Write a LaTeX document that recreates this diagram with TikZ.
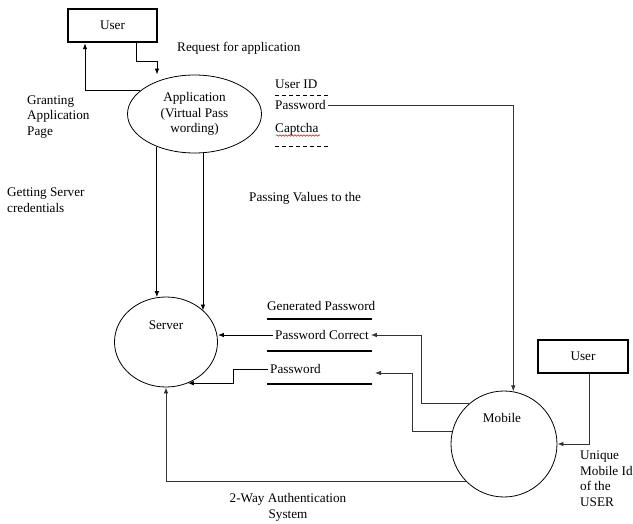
\documentclass[tikz,border=0pt]{standalone}
\usepackage{fontspec}
\setmainfont{Liberation Serif}
\usetikzlibrary{arrows.meta,shapes.geometric,decorations.pathmorphing}

\tikzset{
  entity/.style={draw, line width=2.4pt, minimum width=89pt, minimum height=33pt, inner sep=0pt},
  process/.style={draw, ellipse, line width=0.8pt, inner sep=0pt},
  flow/.style={-{Latex[length=6pt,width=4.5pt]}, line width=0.8pt},
  store/.style={line width=2.6pt},
  lbl/.style={anchor=west, inner xsep=2pt, inner ysep=0pt, align=left},
}

\begin{document}
\begin{tikzpicture}[x=1pt, y=-1pt, font=\fontsize{13.2}{15.5}\selectfont]
\useasboundingbox (0,0) rectangle (633,524);

\node[entity] (user1) at (112.5,25.5) {User};
\node[process, minimum width=134pt, minimum height=78pt, align=center] (app) at (194.5,114) {Application\\(Virtual Pass\\wording)};
\node[process, minimum width=103pt, minimum height=90pt] (server) at (166,342) {};
\node[process, minimum width=106pt, minimum height=106pt] (mob) at (504,444) {};
\node[entity, minimum width=90pt] (user2) at (583,356.5) {User};

\node (servertxt) at (166,325) {Server};
\node (mobtxt) at (502,418) {Mobile};

\node[lbl] (req) at (175,48) {Request for application};
\node[lbl] (grant) at (25,117) {Granting\\Application\\Page};
\node[lbl] (getcred) at (5,200) {Getting Server\\credentials};
\node[lbl] (passval) at (247,198) {Passing Values to the};
\node[lbl] (uid) at (273,84) {User ID};
\node[lbl] (pwd) at (273,105) {Password};
\node[lbl] (cap) at (273,129) {Captcha};
\node[lbl] (gen) at (265,306) {Generated Password};
\node[lbl] (pc) at (273,335) {Password Correct};
\node[lbl] (pw) at (268,369) {Password};
\node[lbl] (uniq) at (578,478.5) {Unique\\Mobile Id\\of the\\USER};
\node[align=center] (twoway) at (288,507.5) {2-Way Authentication\\System};
\coordinate (pwin) at (375,373);

\draw[dash pattern=on 4pt off 3pt] (275,95) -- (328,95);
\draw[dash pattern=on 4pt off 3pt] (275,146) -- (328,146);
\draw[red, line width=0.5pt, decorate, decoration={snake, amplitude=0.8pt, segment length=3pt}] (276,135.5) -- (320,135.5);

\draw[store] (267,319) -- (372,319);
\draw[store] (267,351) -- (372,351);
\draw[store] (267,384) -- (372,384);

\draw[flow] (136,0 |- user1.south) |- (157,61) -- (157,0 |- app.north);
\draw[flow] (app.157) -| (85,0 |- user1.south);
\draw[flow] (app.221) -- (app.221 |- server.101);
\draw[flow] (app.south -| 203,0) -- (203,0 |- server.40);
\draw[flow] (pc.west) -- (server.east |- pc.west);
\draw[flow] (pw.west) -- (233,0 |- pw.west) |- (server.-62);
\draw[flow, black!80] (pwd.east) -| (mob.80);
\draw[flow, black!80] (mob.131) -- (421,0 |- mob.131) |- (pc.east);
\draw[flow, black!80] (mob.166) -- (412,0 |- mob.166) |- (pwin);
\draw[flow, black!80] (589,0 |- user2.south) |- (mob.east);
\draw[flow, black!80] (mob.224) -| (server.south);
\end{tikzpicture}
\end{document}
